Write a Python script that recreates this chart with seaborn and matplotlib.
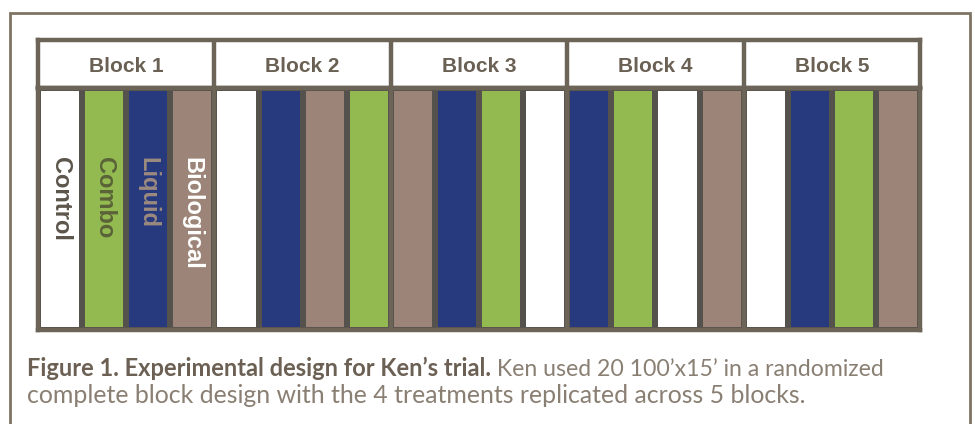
import matplotlib
matplotlib.use("Agg")
import matplotlib.pyplot as plt
from matplotlib.colors import ListedColormap
from matplotlib.patches import Rectangle
import seaborn as sns
import pandas as pd
import numpy as np

sns.set_theme(style="white")
plt.rcParams['font.family'] = ['Liberation Sans', 'DejaVu Sans']

# data
treatments = ['Control', 'Combo', 'Liquid', 'Biological']
blocks = ['Block 1', 'Block 2', 'Block 3', 'Block 4', 'Block 5']
layout = [
    ['Control', 'Combo', 'Liquid', 'Biological'],
    ['Control', 'Liquid', 'Biological', 'Combo'],
    ['Biological', 'Liquid', 'Combo', 'Control'],
    ['Liquid', 'Combo', 'Control', 'Biological'],
    ['Control', 'Liquid', 'Combo', 'Biological'],
]
treatment_colors = ['#ffffff', '#93ba50', '#263a7d', '#9c8578']
label_colors = ['#5c554b', '#5a6338', '#9c8a80', '#ffffff']

caption_bold = 'Figure 1. Experimental design for Ken\u2019s trial.'
caption_1 = ' Ken used 20 100\u2019x15\u2019 in a randomized'
caption_2 = 'complete block design with the 4 treatments replicated across 5 blocks.'

frame = '#6c6456'
sep = '#55524e'

# one row of 20 plots, coded by treatment
codes = [treatments.index(t) for blk in layout for t in blk]
cols = [f'{b}-{i + 1}' for b in blocks for i in range(4)]
grid = pd.DataFrame([codes], columns=cols)

W, H = 975, 424
fig = plt.figure(figsize=(W / 100, H / 100), dpi=100)
fig.patch.set_facecolor('white')

x0, x1 = 38, 920
ax_head = fig.add_axes([x0 / W, 1 - 88 / H, (x1 - x0) / W, 48 / H])
ax = fig.add_axes([x0 / W, 1 - 330 / H, (x1 - x0) / W, 242 / H])

cmap = ListedColormap(treatment_colors)
sns.heatmap(grid, ax=ax, cmap=cmap, vmin=-0.5, vmax=3.5, cbar=False,
            linewidths=3, linecolor=sep, xticklabels=False, yticklabels=False)
for b in range(1, len(blocks)):
    ax.axvline(b * 4, color=frame, lw=3.2)
for s in ax.spines.values():
    s.set_visible(True)
    s.set_color(frame)
    s.set_linewidth(3.2)

# labels in block 1
for i, t in enumerate(layout[0]):
    ax.text(i + 0.5, 0.285, t, rotation=-90, ha='center', va='top',
            fontsize=17, fontweight='bold', color=label_colors[treatments.index(t)])

# header row
ax_head.set_xlim(0, len(blocks))
ax_head.set_ylim(0, 1)
ax_head.set_xticks([])
ax_head.set_yticks([])
for b in range(1, len(blocks)):
    ax_head.axvline(b, color=frame, lw=3.2)
for s in ax_head.spines.values():
    s.set_visible(True)
    s.set_color(frame)
    s.set_linewidth(3.2)
for i, name in enumerate(blocks):
    ax_head.text(i + 0.5, 0.44, name, ha='center', va='center',
                 fontsize=15, fontweight='bold', color='#6a6154')

# outer frame
fig.add_artist(Rectangle((10 / W, -0.2), 960 / W, 1.2 - 13 / H, transform=fig.transFigure,
                         fill=False, ec='#7d7464', lw=2, clip_on=False))

# caption
t1 = fig.text(27 / W, 1 - 376 / H, caption_bold, family=['Lato', 'DejaVu Sans'],
              fontsize=17, fontweight='bold', color='#6b6053', va='baseline')
fig.canvas.draw()
bb = t1.get_window_extent()
fig.text(bb.x1 / W, 1 - 376 / H, caption_1, family=['Lato', 'DejaVu Sans'],
         fontsize=16.6, fontweight='normal', color='#8a7f73', va='baseline')
fig.text(27 / W, 1 - 403 / H, caption_2, family=['Lato', 'DejaVu Sans'],
         fontsize=17.9, fontweight='normal', color='#8a7f73', va='baseline')

fig.savefig('out.png', dpi=100)
